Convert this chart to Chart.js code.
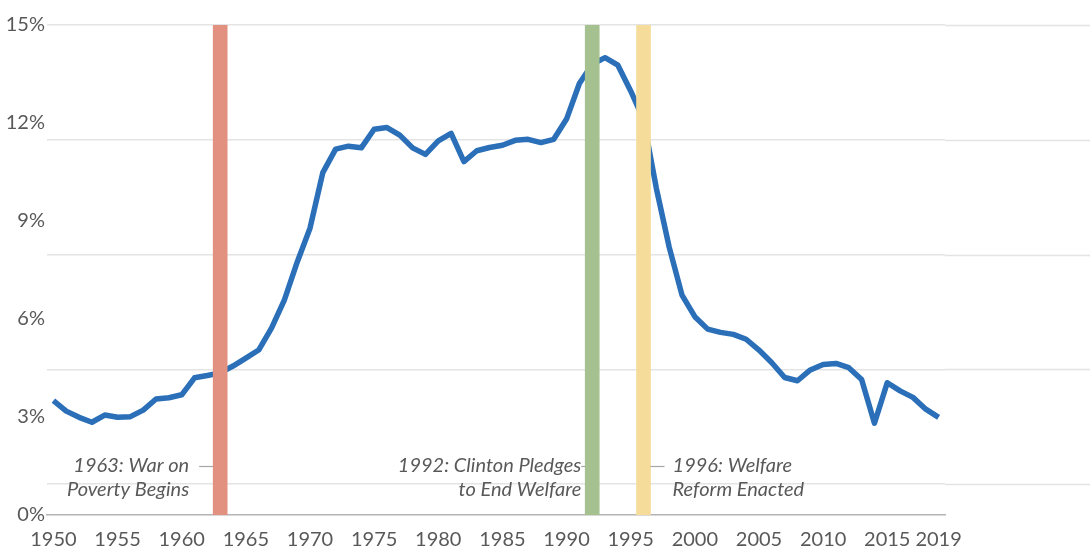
<!DOCTYPE html>
<html>
<head>
<meta charset="utf-8">
<script src="https://cdn.jsdelivr.net/npm/chart.js@4"></script>
<style>
html,body{margin:0;padding:0;background:#fff;}
#wrap{width:1090px;height:553px;position:relative;}
</style>
</head>
<body>
<div id="wrap"><canvas id="c" width="1090" height="553"></canvas></div>
<script>
// ---- data ----
const years = [];
for (let y = 1950; y <= 2019; y++) years.push(String(y));
const shareValues = [
  3.50, 3.18, 2.99, 2.84, 3.06, 2.99, 3.01, 3.21, 3.55, 3.59,
  3.68, 4.20, 4.27, 4.35, 4.56, 4.80, 5.05, 5.72, 6.58, 7.74,
  8.78, 10.48, 11.20, 11.29, 11.24, 11.81, 11.86, 11.63, 11.24, 11.04,
  11.45, 11.68, 10.82, 11.15, 11.25, 11.32, 11.47, 11.50, 11.40, 11.50,
  12.12, 13.21, 13.80, 14.00, 13.77, 12.98, 12.10, 10.00, 8.20, 6.73,
  6.07, 5.69, 5.59, 5.53, 5.38, 5.05, 4.66, 4.21, 4.11, 4.44,
  4.61, 4.64, 4.51, 4.15, 2.81, 4.05, 3.80, 3.60, 3.24, 2.99
];
const eventYears = ['1963', '1992', '1996'];
const eventBarValue = 15;
const eventLabels = [
  ['1963: War on', 'Poverty Begins'],
  ['1992: Clinton Pledges', 'to End Welfare'],
  ['1996: Welfare', 'Reform Enacted']
];
const eventLabelSide = ['left', 'left', 'right'];
const yTickValues = [0, 3, 6, 9, 12, 15];
const xTickLabels = ['1950','1955','1960','1965','1970','1975','1980','1985','1990','1995','2000','2005','2010','2015','2019'];

// ---- styles ----
const eventColors = ['#e2907f', '#a5c18f', '#f6dc9b'];
const textColor = '#595959';
const fontFamily = 'Lato, "Open Sans", sans-serif';

const barData = years.map(y => eventYears.includes(y) ? eventBarValue : null);
const barColors = years.map(y => {
  const i = eventYears.indexOf(y);
  return i >= 0 ? eventColors[i] : 'rgba(0,0,0,0)';
});

const extendGrid = {
  id: 'extendGrid',
  beforeDatasetsDraw(chart) {
    const s = chart.scales.y2, a = chart.chartArea, ctx = chart.ctx;
    ctx.save();
    ctx.strokeStyle = '#e4e4e4';
    ctx.lineWidth = 1.5;
    s.ticks.forEach(t => {
      const py = Math.round(s.getPixelForValue(t.value)) + 0.5;
      ctx.beginPath();
      ctx.moveTo(a.right, py);
      ctx.lineTo(chart.width, py);
      ctx.stroke();
    });
    ctx.restore();
  }
};

const annotations = {
  id: 'annotations',
  afterDatasetsDraw(chart) {
    const xs = chart.scales.x, ys = chart.scales.y, ctx = chart.ctx;
    const half = 7;
    ctx.save();
    ctx.font = 'italic 20px ' + fontFamily;
    ctx.fillStyle = textColor;
    ctx.textBaseline = 'middle';
    eventYears.forEach((yr, i) => {
      const cx = xs.getPixelForValue(years.indexOf(yr));
      const y1 = ys.getPixelForValue(1.5);
      const lines = eventLabels[i];
      ctx.strokeStyle = '#a6a6a6';
      ctx.lineWidth = 1.2;
      ctx.beginPath();
      if (eventLabelSide[i] === 'left') {
        const edge = cx - half;
        const gap = i === 0 ? 24 : 4;
        const lead = i === 0 ? 14 : 4;
        ctx.moveTo(edge - lead, y1 + 0.5);
        ctx.lineTo(edge, y1 + 0.5);
        ctx.stroke();
        ctx.textAlign = 'right';
        lines.forEach((t, k) => ctx.fillText(t, edge - gap, y1 + k * 24));
      } else {
        const edge = cx + half;
        ctx.moveTo(edge, y1 + 0.5);
        ctx.lineTo(edge + 14, y1 + 0.5);
        ctx.stroke();
        ctx.textAlign = 'left';
        lines.forEach((t, k) => ctx.fillText(t, edge + 22, y1 + k * 24));
      }
    });
    ctx.restore();
  }
};

new Chart(document.getElementById('c'), {
  data: {
    labels: years,
    datasets: [
      {
        type: 'bar',
        data: barData,
        backgroundColor: barColors,
        barThickness: 14,
        yAxisID: 'y',
        order: 0
      },
      {
        type: 'line',
        data: shareValues,
        borderColor: '#2a6fb8',
        borderWidth: 5.5,
        pointRadius: 0,
        tension: 0,
        borderJoinStyle: 'round',
        yAxisID: 'y',
        order: 1
      }
    ]
  },
  options: {
    responsive: false,
    animation: false,
    layout: { padding: { top: 25, right: 145, left: 0, bottom: 0 } },
    plugins: { legend: { display: false }, tooltip: { enabled: false } },
    scales: {
      x: {
        type: 'category',
        offset: true,
        grid: { display: false, drawTicks: false },
        border: { display: true, color: '#b4b4b4', width: 1.5 },
        ticks: {
          autoSkip: false,
          maxRotation: 0,
          padding: 13,
          color: textColor,
          font: { family: fontFamily, size: 20 },
          callback: function (v) {
            const l = this.getLabelForValue(v);
            return xTickLabels.includes(l) ? l : '';
          }
        },
        afterFit(s) { s.height = 38; }
      },
      y: {
        position: 'left',
        min: 0,
        max: 15,
        afterBuildTicks(s) { s.ticks = yTickValues.map(v => ({ value: v })); },
        grid: { display: false, drawTicks: false },
        border: { display: false },
        ticks: {
          padding: 2,
          color: textColor,
          font: { family: fontFamily, size: 20 },
          callback: v => v + '%'
        },
        afterFit(s) { s.width = 47; }
      },
      y2: {
        position: 'left',
        reverse: true,
        min: 0,
        max: 4.27,
        afterBuildTicks(s) { s.ticks = [0, 1, 2, 3, 4].map(v => ({ value: v })); },
        grid: { display: true, drawTicks: false, color: '#e4e4e4', lineWidth: 1.5 },
        border: { display: false },
        ticks: { display: false },
        afterFit(s) { s.width = 0; }
      }
    }
  },
  plugins: [extendGrid, annotations]
});
</script>
</body>
</html>
